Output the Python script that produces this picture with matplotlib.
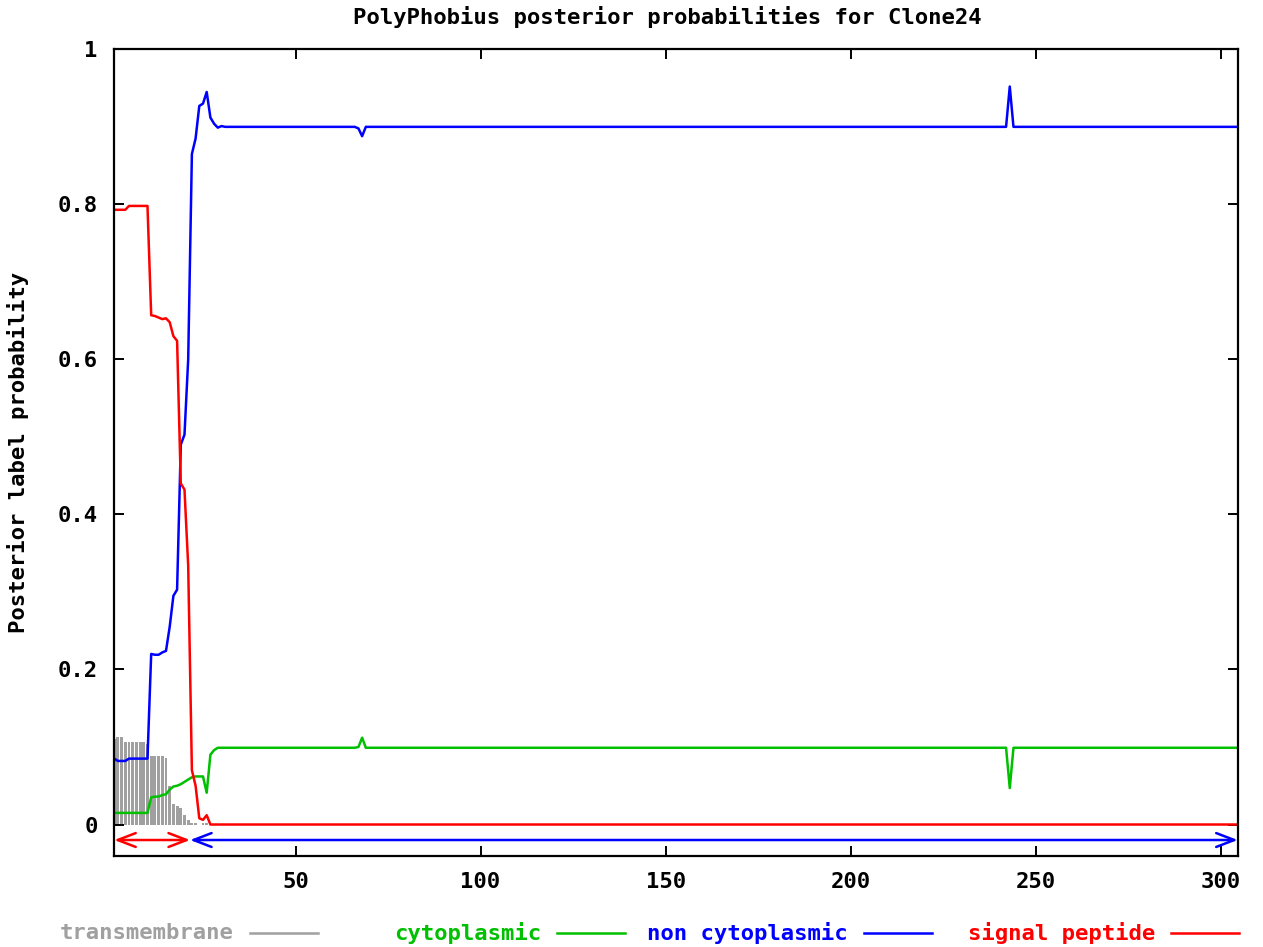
import numpy as np
import matplotlib
matplotlib.use('Agg')
import matplotlib.pyplot as plt
from matplotlib.lines import Line2D

# PolyPhobius posterior probabilities, one value per residue (1..305)
residues = np.arange(1, 306)

tm_head = [0.110, 0.113, 0.113, 0.106, 0.106, 0.106, 0.106, 0.106, 0.106, 0.104,
           0.089, 0.089, 0.089, 0.089, 0.086, 0.050, 0.027, 0.024, 0.021, 0.012,
           0.006, 0.002, 0.002, 0.000, 0.002, 0.002, 0.000, 0.000, 0.000, 0.000]
cyto_head = [0.015, 0.015, 0.015, 0.015, 0.015, 0.015, 0.015, 0.015, 0.015, 0.015,
             0.035, 0.036, 0.036, 0.038, 0.039, 0.045, 0.049, 0.050, 0.052, 0.055,
             0.058, 0.061, 0.062, 0.062, 0.062, 0.041, 0.090, 0.096, 0.099, 0.099]
noncyto_head = [0.085, 0.082, 0.082, 0.082, 0.085, 0.085, 0.085, 0.085, 0.085, 0.085,
                0.220, 0.219, 0.219, 0.222, 0.224, 0.255, 0.295, 0.303, 0.490, 0.503,
                0.600, 0.865, 0.885, 0.927, 0.930, 0.945, 0.912, 0.904, 0.899, 0.901]
sp_head = [0.793, 0.793, 0.793, 0.793, 0.798, 0.798, 0.798, 0.798, 0.798, 0.798,
           0.657, 0.656, 0.654, 0.652, 0.653, 0.648, 0.630, 0.624, 0.440, 0.432,
           0.334, 0.070, 0.050, 0.008, 0.006, 0.012, 0.000, 0.000, 0.000, 0.000]

transmembrane = tm_head + [0.0] * 275
cytoplasmic = cyto_head + [0.099] * 36 + [0.100, 0.112] + [0.099] * 174 + [0.047] + [0.099] * 62
non_cytoplasmic = noncyto_head + [0.900] * 36 + [0.898, 0.888] + [0.900] * 174 + [0.952] + [0.900] * 62
signal_peptide = sp_head + [0.0] * 275

# predicted topology (start, end, label)
topology = [(1, 21, 'signal peptide'), (22, 305, 'non cytoplasmic')]

labels = ['transmembrane', 'cytoplasmic', 'non cytoplasmic', 'signal peptide']
colors = {'transmembrane': '#a0a0a0', 'cytoplasmic': '#00c000',
          'non cytoplasmic': '#0000ff', 'signal peptide': '#ff0000'}

font = dict(family='DejaVu Sans Mono', weight='bold', size=16)
LW = 1.8

fig = plt.figure(figsize=(12.63, 9.47), dpi=100)
ax = fig.add_axes([0.0904, 0.0966, 0.8896, 0.8513])

ax.bar(residues, transmembrane, width=0.78, color=colors['transmembrane'], linewidth=0)
ax.plot(residues, cytoplasmic, color=colors['cytoplasmic'], lw=LW)
ax.plot(residues, non_cytoplasmic, color=colors['non cytoplasmic'], lw=LW)
ax.plot(residues, signal_peptide, color=colors['signal peptide'], lw=LW)

x0, x1 = 1, 304.6
ax.set_xlim(x0, x1)
ax.set_ylim(-0.04, 1.0)

# topology arrows under the zero line
for start, end, lab in topology:
    a = max(start - 0.5, x0)
    b = min(end + 0.5, x1)
    ax.annotate('', xy=(b, -0.02), xytext=(a, -0.02),
                arrowprops=dict(arrowstyle='<->,head_length=0.65,head_width=0.25',
                                mutation_scale=20, color=colors[lab], lw=LW,
                                shrinkA=0, shrinkB=0))

ax.set_xticks([50, 100, 150, 200, 250, 300])
ax.set_yticks([0, 0.2, 0.4, 0.6, 0.8, 1.0])
ax.set_yticklabels(['0', '0.2', '0.4', '0.6', '0.8', '1'])
ax.tick_params(direction='in', length=7, width=1.4, top=True, right=True, pad=12)
for t in ax.get_xticklabels() + ax.get_yticklabels():
    t.set_fontfamily(font['family'])
    t.set_fontweight(font['weight'])
    t.set_fontsize(font['size'])
for s in ax.spines.values():
    s.set_linewidth(1.6)

fig.text(0.528, 1 - 17 / 947, 'PolyPhobius posterior probabilities for Clone24',
         ha='center', va='center', **font)
fig.text(0.0145, 1 - 452 / 947, 'Posterior label probability', rotation=90,
         ha='center', va='center', **font)

# key along the bottom, text right-justified before each sample line
W, H = 1263, 947
for i, lab in enumerate(labels):
    line_end = 318 + 307 * i
    line_start = line_end - 68
    ky = 1 - 933 / H
    fig.add_artist(Line2D([line_start / W, line_end / W], [ky, ky],
                          color=colors[lab], lw=LW))
    fig.text((line_start - 16) / W, ky, lab, ha='right', va='center',
             color=colors[lab], **font)

fig.savefig('out.png', dpi=100)
